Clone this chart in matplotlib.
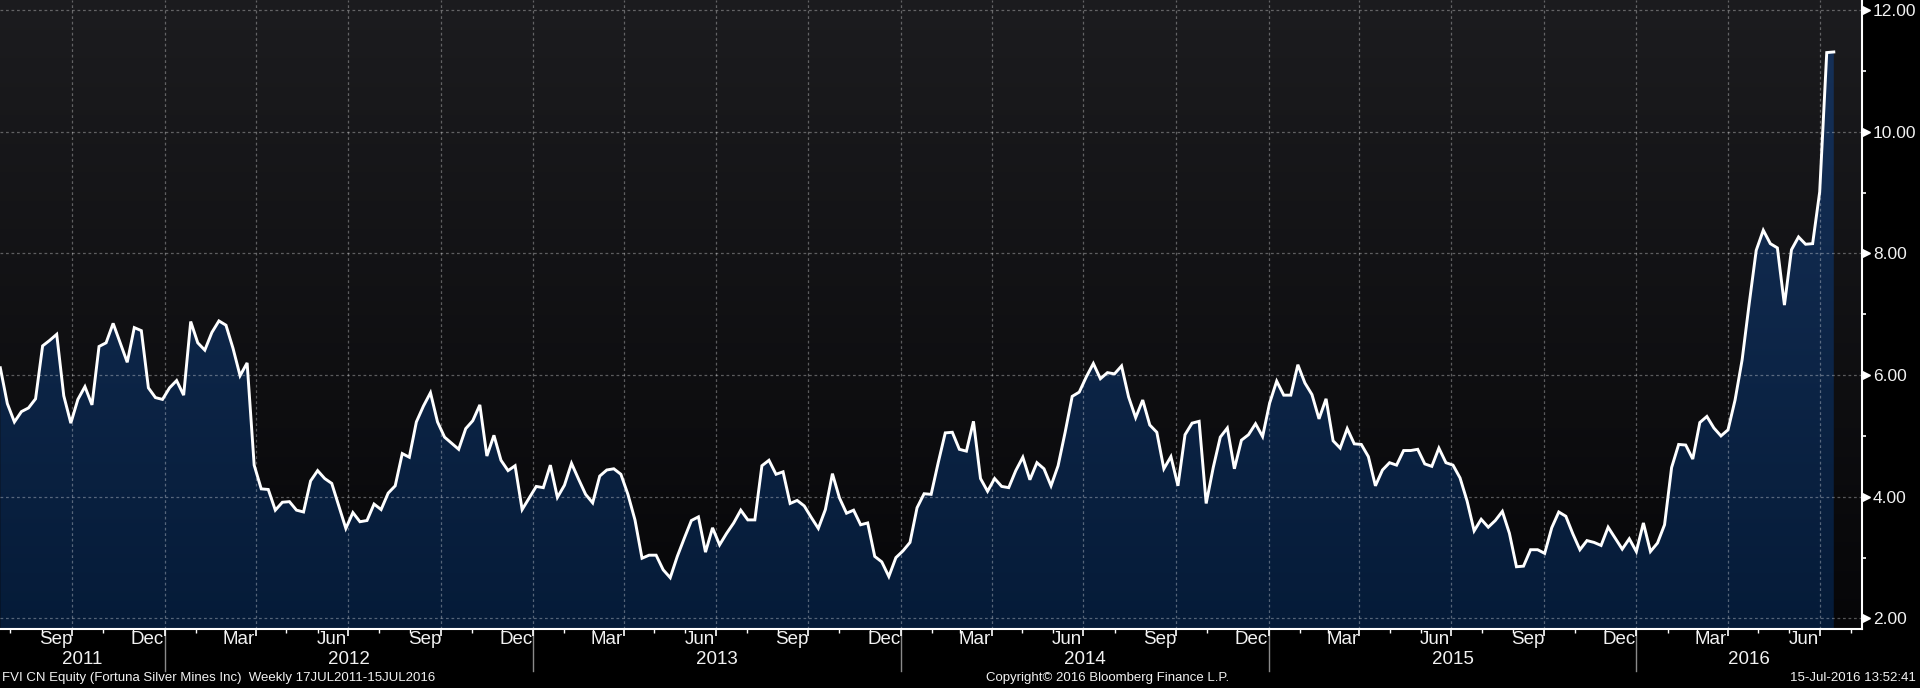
import datetime as dt

import matplotlib
matplotlib.use('Agg')
import matplotlib.pyplot as plt
import matplotlib.dates as mdates
import numpy as np
import pandas as pd
from matplotlib.colors import LinearSegmentedColormap
from matplotlib.transforms import ScaledTranslation

plt.rcParams['font.family'] = ['Liberation Sans', 'DejaVu Sans']

# DATI (chiusure settimanali FVI CN, venerdi)
start = '2011-07-22'
prezzi_2011 = [6.12, 5.53, 5.23, 5.40, 5.46, 5.61, 6.48, 6.57, 6.67, 5.66,
               5.21, 5.60, 5.81, 5.51, 6.47, 6.53, 6.85, 6.53, 6.21, 6.78,
               6.73, 5.79, 5.63, 5.60]
prezzi_2012 = [5.79, 5.91, 5.67, 6.88, 6.53, 6.41, 6.70, 6.89, 6.82, 6.44,
               5.99, 6.20, 4.52, 4.13, 4.12, 3.78, 3.91, 3.92, 3.78, 3.75,
               4.26, 4.43, 4.30, 4.22, 3.85, 3.48, 3.74, 3.59, 3.61, 3.88,
               3.79, 4.06, 4.18, 4.71, 4.65, 5.23, 5.49, 5.71, 5.23, 4.98,
               4.88, 4.78, 5.12, 5.25, 5.51, 4.67, 5.01, 4.60, 4.43, 4.51,
               3.79, 3.98]
prezzi_2013 = [4.17, 4.15, 4.52, 3.99, 4.19, 4.55, 4.29, 4.04, 3.90, 4.34,
               4.44, 4.46, 4.37, 4.04, 3.62, 2.99, 3.04, 3.04, 2.80, 2.67,
               3.02, 3.32, 3.61, 3.67, 3.09, 3.49, 3.21, 3.40, 3.57, 3.78,
               3.62, 3.62, 4.51, 4.60, 4.37, 4.41, 3.89, 3.94, 3.85, 3.66,
               3.48, 3.79, 4.38, 3.98, 3.73, 3.78, 3.54, 3.57, 3.02, 2.93,
               2.69, 3.00]
prezzi_2014 = [3.11, 3.25, 3.82, 4.05, 4.04, 4.56, 5.05, 5.06, 4.78, 4.75,
               5.24, 4.30, 4.09, 4.30, 4.17, 4.15, 4.43, 4.65, 4.28, 4.56,
               4.46, 4.18, 4.51, 5.06, 5.65, 5.72, 5.97, 6.19, 5.94, 6.04,
               6.02, 6.15, 5.64, 5.30, 5.59, 5.18, 5.06, 4.46, 4.66, 4.18,
               5.02, 5.21, 5.24, 3.89, 4.48, 4.98, 5.13, 4.46, 4.93, 5.02,
               5.20, 4.99]
prezzi_2015 = [5.54, 5.90, 5.67, 5.67, 6.17, 5.87, 5.68, 5.28, 5.61, 4.92,
               4.80, 5.12, 4.87, 4.86, 4.66, 4.18, 4.44, 4.56, 4.52, 4.76,
               4.76, 4.78, 4.54, 4.50, 4.80, 4.56, 4.52, 4.31, 3.93, 3.44,
               3.63, 3.50, 3.61, 3.76, 3.40, 2.85, 2.86, 3.13, 3.13, 3.07,
               3.49, 3.75, 3.68, 3.39, 3.13, 3.28, 3.25, 3.20, 3.50, 3.32,
               3.14, 3.31]
prezzi_2016 = [3.10, 3.57, 3.10, 3.24, 3.54, 4.48, 4.86, 4.85, 4.62, 5.22,
               5.32, 5.13, 5.00, 5.10, 5.59, 6.25, 7.17, 8.05, 8.38, 8.16,
               8.09, 7.15, 8.06, 8.27, 8.15, 8.16, 9.01, 11.30, 11.31]

y_ticks = [2, 4, 6, 8, 10, 12]
mesi_etichette = {3: 'Mar', 6: 'Jun', 9: 'Sep', 12: 'Dec'}
anni = [2011, 2012, 2013, 2014, 2015, 2016]
testo_sx = 'FVI CN Equity (Fortuna Silver Mines Inc)  Weekly 17JUL2011-15JUL2016'
testo_centro = 'Copyright\u00a9 2016 Bloomberg Finance L.P.'
testo_dx = '15-Jul-2016 13:52:41'

prezzi = np.array(prezzi_2011 + prezzi_2012 + prezzi_2013 +
                  prezzi_2014 + prezzi_2015 + prezzi_2016)
date = pd.date_range(start, periods=len(prezzi), freq='7D')
x = mdates.date2num(date.to_pydatetime())

# LIMITI
x0 = x[0] - 0.3
x1 = x[0] + 1848
y0, y1 = 1.827, 12.164

testo_col = '#f2f2f2'

fig = plt.figure(figsize=(19.2, 6.88), dpi=100, facecolor='black')
ax = fig.add_axes([0, 59 / 688, 1862 / 1920, 629 / 688])
ax.set_facecolor('black')

# sfondo sfumato
sfondo_cmap = LinearSegmentedColormap.from_list('sfondo', ['#060608', '#1c1c1f'])
grad = np.linspace(0, 1, 256).reshape(-1, 1)
ax.imshow(grad, cmap=sfondo_cmap, extent=[x0, x1, y0, y1], aspect='auto',
          origin='lower', zorder=0, interpolation='bicubic')

# area sotto la curva, sfumata
area_cmap = LinearSegmentedColormap.from_list('area', ['#051b38', '#17325a'])
poly = ax.fill_between(x, prezzi, y0, color='none', lw=0)
im = ax.imshow(grad, cmap=area_cmap, extent=[x0, x1, y0, y1], aspect='auto',
               origin='lower', zorder=1, interpolation='bicubic')
im.set_clip_path(poly.get_paths()[0], transform=ax.transData)

ax.plot(x, prezzi, color='white', lw=2.1, zorder=4, solid_joinstyle='miter')

ax.set_xlim(x0, x1)
ax.set_ylim(y0, y1)

# ASSE Y a destra
ax.yaxis.tick_right()
ax.set_yticks(y_ticks)
ax.set_yticks([3, 5, 7, 9, 11], minor=True)
ax.set_yticklabels([f'{v:.2f}' for v in y_ticks])
ax.tick_params(axis='y', which='major', length=0, pad=8, labelsize=12.5,
               labelcolor=testo_col)
ax.tick_params(axis='y', which='minor', length=3, width=1.2, color='white')
frecce = ScaledTranslation(4 / 100, 0, fig.dpi_scale_trans)
ax.plot([1.0] * len(y_ticks), y_ticks, ls='none', marker='>', ms=6,
        color='white', clip_on=False, zorder=6,
        transform=ax.get_yaxis_transform() + frecce)

# ASSE X
inizi_trim = pd.date_range('2011-10-01', '2016-07-01', freq='QS')
inizi_mese = pd.date_range('2011-08-01', '2016-08-01', freq='MS')
ax.set_xticks(mdates.date2num(inizi_trim.to_pydatetime()))
ax.set_xticks(mdates.date2num(inizi_mese.to_pydatetime()), minor=True)
ax.set_xticklabels([])
ax.tick_params(axis='x', which='major', length=5, width=1.2, color='white')
ax.tick_params(axis='x', which='minor', length=3, width=1.0, color='white')

for d in inizi_trim:
    meta = d - pd.DateOffset(months=1) + pd.Timedelta(days=14)
    ax.text(mdates.date2num(meta.to_pydatetime()), -0.017,
            mesi_etichette[meta.month],
            transform=ax.get_xaxis_transform(), ha='center', va='center',
            fontsize=13.5, color=testo_col)

for anno in anni:
    a = max(mdates.date2num(dt.datetime(anno, 1, 1)), x0)
    b = min(mdates.date2num(dt.datetime(anno + 1, 1, 1)), x1)
    ax.text((a + b) / 2, -0.049, str(anno), transform=ax.get_xaxis_transform(),
            ha='center', va='center', fontsize=13.5, color=testo_col)
    if anno > 2011:
        ax.plot([a, a], [0, -0.067], color='#8a8a8a', lw=1.0, clip_on=False,
                transform=ax.get_xaxis_transform())

# GRIGLIA
ax.set_axisbelow(False)
ax.grid(which='major', color='white', alpha=0.32, lw=0.9, ls=(0, (2.2, 2.2)))
for g in ax.get_xgridlines() + ax.get_ygridlines():
    g.set_zorder(2)

for lato in ['top', 'left']:
    ax.spines[lato].set_visible(False)
ax.spines['right'].set_color('white')
ax.spines['right'].set_linewidth(1.5)
ax.spines['bottom'].set_color('white')
ax.spines['bottom'].set_linewidth(1.5)
for s in ax.spines.values():
    s.set_zorder(5)

# PIE' DI PAGINA
fig.text(2 / 1920, 10 / 688, testo_sx, ha='left', va='center', fontsize=9.5,
         color=testo_col)
fig.text(1108 / 1920, 10 / 688, testo_centro, ha='center', va='center',
         fontsize=9.5, color=testo_col)
fig.text(1916 / 1920, 10 / 688, testo_dx, ha='right', va='center',
         fontsize=9.5, color=testo_col)

fig.savefig('out.png', dpi=100, facecolor='black')
